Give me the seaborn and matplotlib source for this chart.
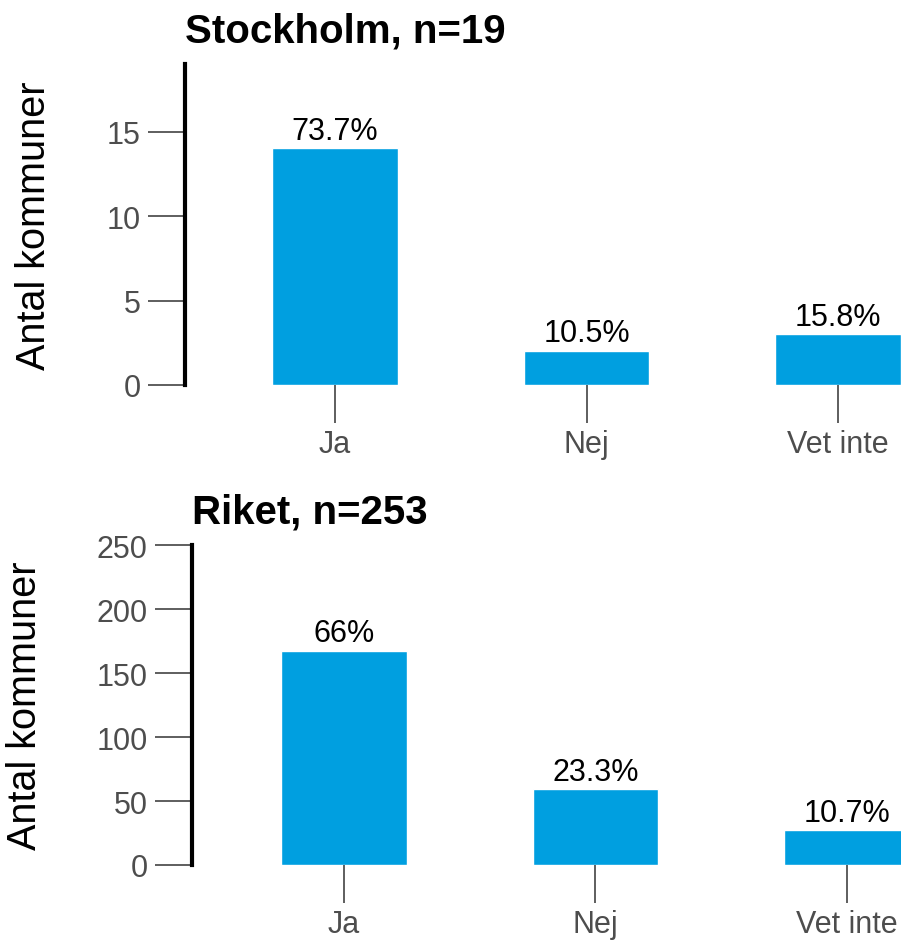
import numpy as np
import pandas as pd
import matplotlib
matplotlib.use('Agg')
import matplotlib.pyplot as plt
import seaborn as sns

# Data
categories = ['Ja', 'Nej', 'Vet inte']
sthlm_counts = [14, 2, 3]
sthlm_pct = ['73.7%', '10.5%', '15.8%']
riket_counts = [167, 59, 27]
riket_pct = ['66%', '23.3%', '10.7%']

sns.set_style('white')
plt.rcParams['font.family'] = ['Liberation Sans', 'DejaVu Sans']

bar_color = '#009fe0'
tick_gray = '#4d4d4d'

fig = plt.figure(figsize=(9.01, 9.45), dpi=100)
ax_top = fig.add_axes([185 / 901, 1 - 386 / 945, (901 - 185) / 901, (386 - 65) / 945])
ax_bot = fig.add_axes([192 / 901, 1 - 866 / 945, (901 - 192) / 901, (866 - 546) / 945])


def draw(ax, counts, pcts, title, ymax, yticks, xlim, label_x):
    df = pd.DataFrame({'svar': categories, 'antal': counts})
    sns.barplot(data=df, x='svar', y='antal', color=bar_color, width=0.5,
                saturation=1, ax=ax)
    ax.bar_label(ax.containers[0], labels=pcts, padding=2, fontsize=22,
                 color='black')
    ax.set_ylim(0, ymax)
    ax.set_xlim(*xlim)
    ax.set_yticks(yticks)
    ax.set_xlabel('')
    ax.set_ylabel('Antal kommuner', fontsize=28.5, color='black')
    ax.yaxis.set_label_coords(label_x, 0.5)
    ax.set_title(title, loc='left', fontsize=29, fontweight='bold', pad=16,
                 color='black')
    for s in ['top', 'right', 'bottom']:
        ax.spines[s].set_visible(False)
    ax.spines['left'].set_color('black')
    ax.spines['left'].set_linewidth(3)
    ax.tick_params(axis='both', direction='out', length=27, width=1.1,
                   color='#333333', labelcolor=tick_gray, labelsize=22,
                   pad=5, left=True, bottom=True)
    ax.set_facecolor('white')


draw(ax_top, sthlm_counts, sthlm_pct, 'Stockholm, n=19', 19, [0, 5, 10, 15],
     (-0.596, 2.25), -0.185)
draw(ax_bot, riket_counts, riket_pct, 'Riket, n=253', 250,
     [0, 50, 100, 150, 200, 250], (-0.604, 2.215), -0.209)

fig.savefig('out.png', dpi=100, facecolor='white')
